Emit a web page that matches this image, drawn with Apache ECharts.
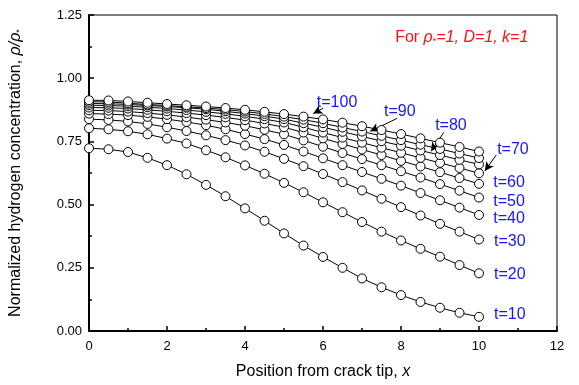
<!DOCTYPE html>
<html>
<head>
<meta charset="utf-8">
<script src="https://cdn.jsdelivr.net/npm/echarts@6/dist/echarts.min.js"></script>
<style>
  html, body { margin: 0; padding: 0; background: #fff; }
  #chart { width: 579px; height: 385px; }
</style>
</head>
<body>
<div id="chart"></div>
<script>
// positions along the crack, x
const xs = [0, 0.5, 1, 1.5, 2, 2.5, 3, 3.5, 4, 4.5, 5, 5.5, 6, 6.5, 7, 7.5, 8, 8.5, 9, 9.5, 10]

// normalized concentration per time step
const t10 = [0.723, 0.719, 0.708, 0.685, 0.656, 0.620, 0.578, 0.533, 0.485, 0.436, 0.386, 0.338, 0.293, 0.250, 0.208, 0.173, 0.142, 0.115, 0.092, 0.072, 0.056]
const t20 = [0.802, 0.798, 0.790, 0.778, 0.761, 0.742, 0.715, 0.687, 0.655, 0.622, 0.586, 0.549, 0.509, 0.470, 0.431, 0.393, 0.358, 0.325, 0.294, 0.261, 0.228]
const t30 = [0.838, 0.835, 0.829, 0.819, 0.806, 0.791, 0.774, 0.755, 0.734, 0.709, 0.681, 0.652, 0.621, 0.589, 0.556, 0.523, 0.490, 0.457, 0.424, 0.393, 0.362]
const t40 = [0.860, 0.858, 0.854, 0.847, 0.838, 0.827, 0.814, 0.798, 0.779, 0.759, 0.736, 0.710, 0.683, 0.656, 0.629, 0.602, 0.575, 0.546, 0.517, 0.488, 0.459]
const t50 = [0.873, 0.872, 0.868, 0.862, 0.855, 0.846, 0.836, 0.825, 0.812, 0.796, 0.778, 0.754, 0.729, 0.704, 0.680, 0.656, 0.632, 0.607, 0.581, 0.555, 0.528]
const t60 = [0.884, 0.883, 0.880, 0.875, 0.869, 0.862, 0.854, 0.845, 0.834, 0.821, 0.806, 0.785, 0.762, 0.740, 0.718, 0.696, 0.673, 0.651, 0.628, 0.605, 0.582]
const t70 = [0.893, 0.892, 0.889, 0.885, 0.880, 0.874, 0.867, 0.859, 0.849, 0.838, 0.825, 0.806, 0.785, 0.765, 0.745, 0.725, 0.705, 0.685, 0.665, 0.645, 0.624]
const t80 = [0.900, 0.899, 0.896, 0.892, 0.888, 0.883, 0.877, 0.869, 0.860, 0.850, 0.838, 0.822, 0.806, 0.788, 0.770, 0.751, 0.733, 0.714, 0.696, 0.677, 0.659]
const t90 = [0.907, 0.906, 0.901, 0.896, 0.892, 0.887, 0.882, 0.876, 0.868, 0.859, 0.848, 0.836, 0.822, 0.805, 0.789, 0.772, 0.755, 0.737, 0.720, 0.702, 0.684]
const t100 = [0.913, 0.912, 0.908, 0.903, 0.898, 0.893, 0.888, 0.882, 0.875, 0.867, 0.858, 0.848, 0.837, 0.824, 0.810, 0.795, 0.779, 0.762, 0.745, 0.728, 0.710]

const seriesNames = ['t=10', 't=20', 't=30', 't=40', 't=50', 't=60', 't=70', 't=80', 't=90', 't=100']
const seriesValues = [t10, t20, t30, t40, t50, t60, t70, t80, t90, t100]

// label anchors (data coords) and arrows pointing at the upper curves
const labelSpots = [
  [6.36, 0.902], [7.97, 0.867], [9.28, 0.814], [10.87, 0.717], [10.77, 0.586],
  [10.77, 0.511], [10.77, 0.444], [10.79, 0.354], [10.79, 0.224], [10.79, 0.063]
]
const labelTexts = ['t=100', 't=90', 't=80', 't=70', 't=60', 't=50', 't=40', 't=30', 't=20', 't=10']
const arrows = [
  [[6.0, 0.881], [5.75, 0.860]],
  [[7.90, 0.841], [7.21, 0.790]],
  [[9.10, 0.786], [8.77, 0.711]],
  [[10.44, 0.696], [10.15, 0.633]]
]

const font = '"Liberation Sans", Arial, sans-serif'

const chart = echarts.init(document.getElementById('chart'), null, { renderer: 'canvas' })

const lineSeries = seriesValues.map((vals, i) => ({
  name: seriesNames[i],
  type: 'line',
  data: xs.map((x, j) => [x, vals[j]]),
  symbol: 'circle',
  symbolSize: 9,
  itemStyle: { color: '#fff', borderColor: '#000', borderWidth: 1 },
  lineStyle: { color: '#000', width: 1 },
  silent: true,
  animation: false,
  z: 2 + i
}))

lineSeries.push({
  type: 'line',
  data: [],
  silent: true,
  animation: false,
  markLine: {
    silent: true,
    animation: false,
    symbol: ['none', 'arrow'],
    symbolSize: [7, 9],
    label: { show: false },
    lineStyle: { color: '#000', width: 1, type: 'solid' },
    data: arrows.map(a => [{ coord: a[0] }, { coord: a[1] }])
  },
  z: 20
})

const axisText = { color: '#000', fontSize: 13, fontFamily: font }

chart.setOption({
  animation: false,
  backgroundColor: '#fff',
  grid: {
    left: 89, right: 22, top: 15, bottom: 52,
    show: true, borderColor: '#000', borderWidth: 1
  },
  xAxis: {
    type: 'value',
    min: 0, max: 12, interval: 2,
    name: 'Position from crack tip, {i|x}',
    nameLocation: 'middle',
    nameGap: 33,
    nameTextStyle: {
      color: '#000', fontSize: 16, fontFamily: font,
      rich: { i: { fontStyle: 'italic', fontSize: 16, fontFamily: font, color: '#000' } }
    },
    axisLine: { lineStyle: { color: '#000', width: 2 } },
    axisTick: { inside: true, length: 5, lineStyle: { color: '#000', width: 1.5 } },
    minorTick: { show: true, splitNumber: 2, length: 3, lineStyle: { color: '#000', width: 1.5 } },
    axisLabel: Object.assign({ margin: 9 }, axisText),
    splitLine: { show: false }
  },
  yAxis: {
    type: 'value',
    min: 0, max: 1.25, interval: 0.25,
    name: 'Normalized hydrogen concentration, {i|ρ/ρ}{s|*}',
    nameLocation: 'middle',
    nameRotate: 90,
    nameGap: 65,
    nameTextStyle: {
      color: '#000', fontSize: 16, fontFamily: font,
      rich: {
        i: { fontStyle: 'italic', fontSize: 16, fontFamily: font, color: '#000' },
        s: { fontSize: 9, fontFamily: font, color: '#000', verticalAlign: 'bottom' }
      }
    },
    axisLine: { lineStyle: { color: '#000', width: 2 } },
    axisTick: { inside: true, length: 5, lineStyle: { color: '#000', width: 1.5 } },
    minorTick: { show: true, splitNumber: 2, length: 3, lineStyle: { color: '#000', width: 1.5 } },
    axisLabel: Object.assign({ margin: 7, formatter: v => v.toFixed(2) }, axisText),
    splitLine: { show: false }
  },
  series: lineSeries
})

// series labels and the parameter note, placed through the chart's own scales
const graphics = labelTexts.map((txt, i) => {
  const p = chart.convertToPixel({ gridIndex: 0 }, labelSpots[i])
  return {
    type: 'text',
    x: p[0], y: p[1],
    z: 30,
    style: {
      text: txt, fill: '#1515ff', fontSize: 16, fontFamily: font,
      align: 'center', verticalAlign: 'middle'
    }
  }
})

const noteAt = chart.convertToPixel({ gridIndex: 0 }, [7.85, 1.16])
graphics.push({
  type: 'text',
  x: noteAt[0], y: noteAt[1],
  z: 30,
  style: {
    text: '{n|For }{i|ρ}{s|*}{i|=1, D=1, k=1}',
    align: 'left', verticalAlign: 'middle',
    rich: {
      n: { fill: '#ff1010', fontSize: 16, fontFamily: font },
      i: { fill: '#ff1010', fontSize: 16, fontFamily: font, fontStyle: 'italic' },
      s: { fill: '#ff1010', fontSize: 9, fontFamily: font, verticalAlign: 'bottom' }
    }
  }
})

chart.setOption({ graphic: graphics })
</script>
</body>
</html>
